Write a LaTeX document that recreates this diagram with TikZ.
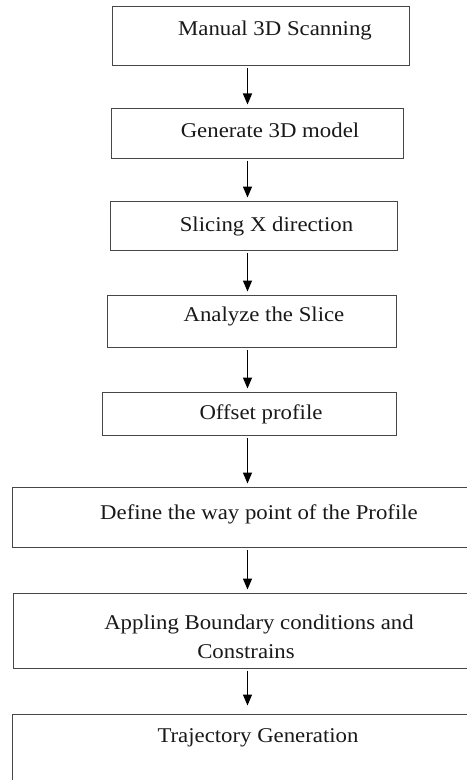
\documentclass[tikz,border=0pt]{standalone}
\usepackage{fontspec}
\setmainfont[FakeStretch=1.085]{Liberation Serif}
\usetikzlibrary{arrows.meta}
\begin{document}
\begin{tikzpicture}[x=1bp,y=-1bp,
  box/.style={draw=black!72, line width=1bp, inner sep=0pt},
  lbl/.style={anchor=base, inner sep=0pt, font=\fontsize{21bp}{25bp}\selectfont, text=black!90},
  arr/.style={line width=1.4bp, -{Triangle[width=9bp,length=11bp]}, shorten <=2bp, shorten >=3bp}]
\clip (0,0) rectangle (467,780);
\fill[white] (0,0) rectangle (467,780);
% boxes
\node[box, minimum width=296bp, minimum height=58bp] (b1) at (261,36) {};
\node[box, minimum width=291bp, minimum height=50bp] (b2) at (257.5,133) {};
\node[box, minimum width=286bp, minimum height=49bp] (b3) at (254,225.5) {};
\node[box, minimum width=288bp, minimum height=52bp] (b4) at (252,321) {};
\node[box, minimum width=293bp, minimum height=43bp] (b5) at (249.5,413.5) {};
\node[box, minimum width=457bp, minimum height=60bp] (b6) at (241.5,517) {};
\node[box, minimum width=456bp, minimum height=75bp] (b7) at (242,630.5) {};
\node[box, minimum width=457bp, minimum height=80bp] (b8) at (241.5,754) {};
% labels
\node[lbl] (t1) at (275,36) {Manual 3D Scanning};
\node[lbl] (t2) at (270,137) {Generate 3D model};
\node[lbl] (t3) at (266.5,231) {Slicing X direction};
\node[lbl] (t4) at (264,321) {Analyze the Slice};
\node[lbl] (t5) at (261,419) {Offset profile};
\node[lbl] (t6) at (259,519) {Define the way point of the Profile};
\node[lbl] (t7a) at (259,629) {Appling Boundary conditions and};
\node[lbl] (t7b) at (246,658) {Constrains};
\node[lbl] (t8) at (258,742) {Trajectory Generation};
% arrows
\coordinate (ax) at (247.5,0);
\draw[arr] (b1.south -| ax) -- (b2.north -| ax);
\draw[arr] (b2.south -| ax) -- (b3.north -| ax);
\draw[arr] (b3.south -| ax) -- (b4.north -| ax);
\draw[arr] (b4.south -| ax) -- (b5.north -| ax);
\draw[arr] (b5.south -| ax) -- (b6.north -| ax);
\draw[arr] (b6.south -| ax) -- (b7.north -| ax);
\draw[arr, shorten >=8bp] (b7.south -| ax) -- (b8.north -| ax);
\end{tikzpicture}
\end{document}
